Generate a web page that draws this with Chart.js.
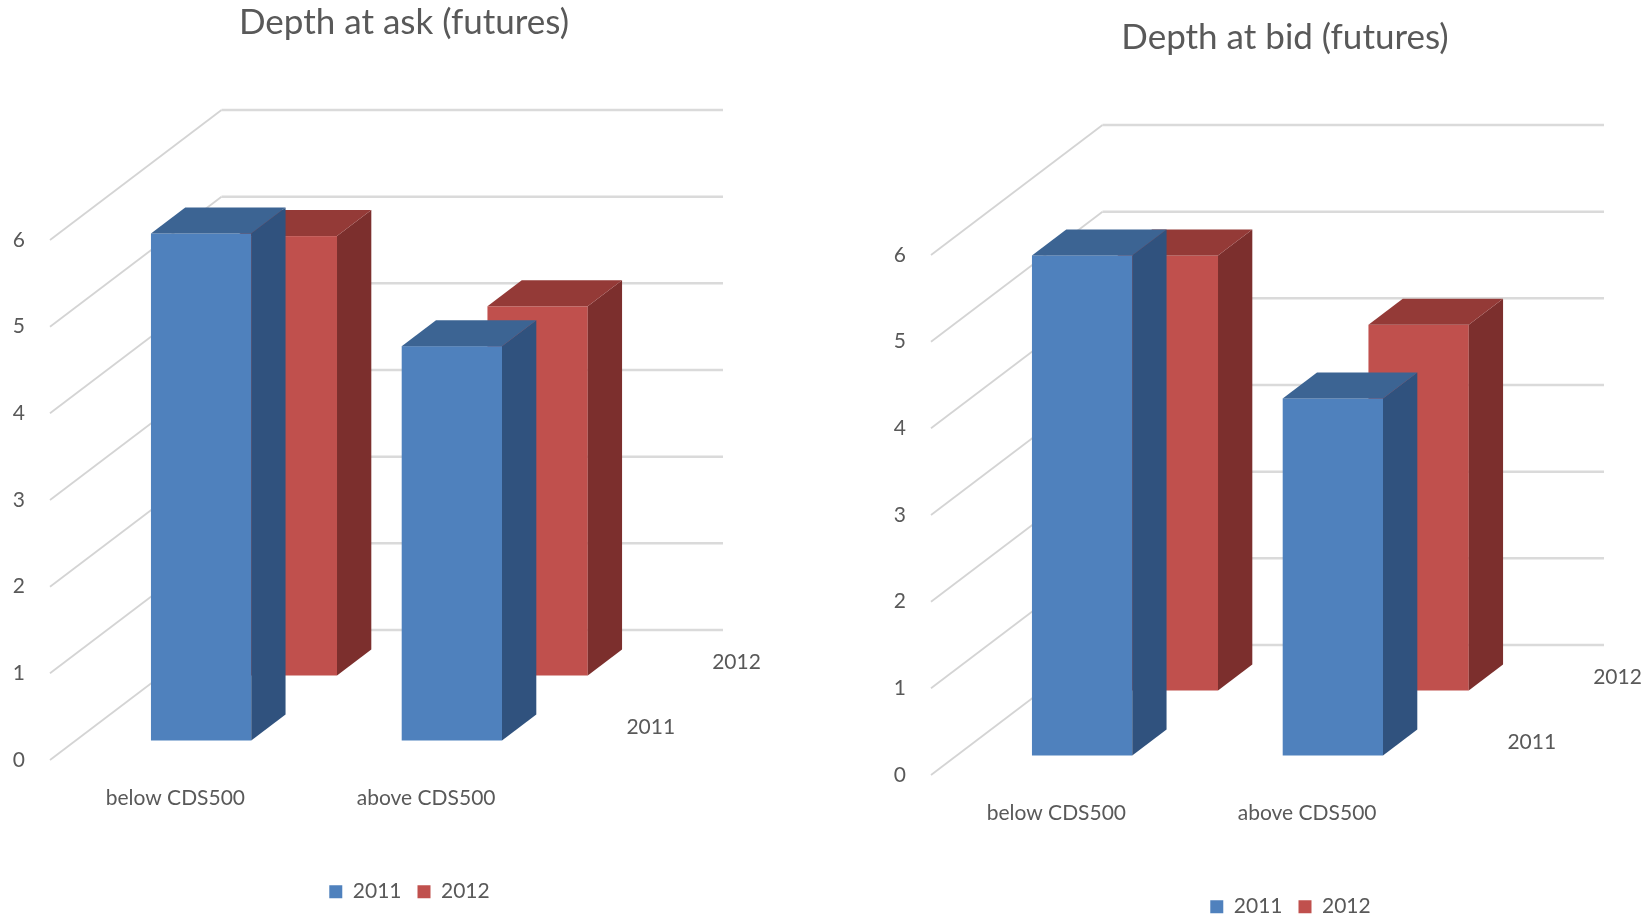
<!DOCTYPE html>
<html>
<head>
<meta charset="utf-8">
<script src="https://cdn.jsdelivr.net/npm/chart.js@4.4.1/dist/chart.umd.min.js"></script>
<style>
  html, body { margin: 0; padding: 0; background: #ffffff; overflow: hidden; width: 1646px; height: 915px; }
  canvas { position: absolute; }
  #askChart { left: 0; top: 0; }
  #bidChart { left: 881px; top: 15px; }
</style>
</head>
<body>
<canvas id="askChart" width="808" height="915"></canvas>
<canvas id="bidChart" width="808" height="915"></canvas>
<script>
// Categories, series and axis ticks
const categories = ['below CDS500', 'above CDS500'];
const years = ['2011', '2012'];
const yTickValues = [0, 1, 2, 3, 4, 5, 6];

// Depth at ask (futures)
const askDepth2011 = [5.85, 4.55];
const askDepth2012 = [5.07, 4.26];

// Depth at bid (futures)
const bidDepth2011 = [5.77, 4.12];
const bidDepth2012 = [5.02, 4.22];

// Face colours of the boxes: front, side, top
const faceColors = [
  { front: '#4F81BD', side: '#30527E', top: '#3C6493' },
  { front: '#C0504D', side: '#7C2F2D', top: '#943A37' }
];

const TEXT_COLOR = '#595959';
const FONT_FAMILY = 'Lato, "Open Sans", "DejaVu Sans", sans-serif';

// Oblique projection: how far the back wall sits from the front plane,
// as a share of the plot area, and how much of each row a box fills.
const DEPTH_X = 0.342;
const DEPTH_Y = 0.25;
const DEPTH_FILL = 0.4;

// Horizontal nudge of the legend row
const LEGEND_SHIFT = 5.5;

Chart.defaults.font.family = FONT_FAMILY;
Chart.defaults.color = TEXT_COLOR;

const box3d = {
  id: 'box3d',
  afterLayout(chart) {
    if (chart.legend) {
      chart.legend.left += LEGEND_SHIFT;
      chart.legend.right += LEGEND_SHIFT;
    }
  },
  beforeDatasetsDraw(chart) {
    const { ctx, chartArea: a, scales } = chart;
    const yScale = scales.y;
    const dX = a.width * DEPTH_X;
    const dY = -a.height * DEPTH_Y;
    const nRows = chart.data.datasets.length;

    ctx.save();
    // side wall diagonals and back wall gridlines
    yScale.ticks.forEach(t => {
      const py = yScale.getPixelForValue(t.value);
      ctx.strokeStyle = '#D4D4D4';
      ctx.lineWidth = 1.8;
      ctx.beginPath();
      ctx.moveTo(a.left, py);
      ctx.lineTo(a.left + dX, py + dY);
      ctx.stroke();
      ctx.strokeStyle = '#DADADA';
      ctx.lineWidth = 2.5;
      ctx.beginPath();
      ctx.moveTo(a.left + dX, py + dY);
      ctx.lineTo(a.right + dX, py + dY);
      ctx.stroke();
    });

    // boxes, back row first so the front row covers it
    for (let r = nRows - 1; r >= 0; r--) {
      const meta = chart.getDatasetMeta(r);
      const c = faceColors[r];
      const f0 = (r + (1 - DEPTH_FILL) / 2) / nRows;
      const f1 = (r + (1 + DEPTH_FILL) / 2) / nRows;
      const ox = dX * f0, oy = dY * f0;
      const bx = dX * (f1 - f0), by = dY * (f1 - f0);
      meta.data.forEach(bar => {
        const p = bar.getProps(['x', 'y', 'base', 'width'], true);
        const x0 = p.x - p.width / 2 + ox;
        const x1 = p.x + p.width / 2 + ox;
        const yT = p.y + oy;
        const yB = p.base + oy;
        // front
        ctx.fillStyle = c.front;
        ctx.fillRect(x0, yT, x1 - x0, yB - yT);
        // side
        ctx.fillStyle = c.side;
        ctx.beginPath();
        ctx.moveTo(x1, yT);
        ctx.lineTo(x1 + bx, yT + by);
        ctx.lineTo(x1 + bx, yB + by);
        ctx.lineTo(x1, yB);
        ctx.closePath();
        ctx.fill();
        // top
        ctx.fillStyle = c.top;
        ctx.beginPath();
        ctx.moveTo(x0, yT);
        ctx.lineTo(x0 + bx, yT + by);
        ctx.lineTo(x1 + bx, yT + by);
        ctx.lineTo(x1, yT);
        ctx.closePath();
        ctx.fill();
      });
    }

    // series labels along the depth axis
    ctx.fillStyle = TEXT_COLOR;
    ctx.font = '21px ' + FONT_FAMILY;
    ctx.textAlign = 'left';
    ctx.textBaseline = 'middle';
    chart.data.datasets.forEach((ds, r) => {
      const f = (r + 0.5) / nRows;
      ctx.fillText(ds.label, a.right + dX * f + 32, a.bottom + dY * f);
    });
    ctx.restore();
    return false;
  }
};

function makePanel(canvasId, titleText, values2011, values2012) {
  return new Chart(document.getElementById(canvasId), {
    type: 'bar',
    data: {
      labels: categories,
      datasets: [
        { label: years[0], data: values2011, backgroundColor: faceColors[0].front, borderWidth: 0 },
        { label: years[1], data: values2012, backgroundColor: faceColors[1].front, borderWidth: 0 }
      ]
    },
    options: {
      responsive: false,
      devicePixelRatio: 1,
      animation: false,
      grouped: false,
      categoryPercentage: 1,
      barPercentage: DEPTH_FILL,
      layout: { padding: { left: 0, right: 0, top: 0, bottom: 2.8 } },
      plugins: {
        title: {
          display: true,
          text: titleText,
          color: TEXT_COLOR,
          font: { size: 35, weight: '400' },
          padding: { top: 2, bottom: 196 }
        },
        legend: {
          position: 'bottom',
          labels: {
            boxWidth: 13,
            boxHeight: 13,
            padding: 16,
            color: TEXT_COLOR,
            font: { size: 21 }
          }
        },
        tooltip: { enabled: false }
      },
      scales: {
        x: {
          offset: true,
          grid: { display: false, drawTicks: false },
          border: { display: false },
          ticks: { padding: 25.5, maxRotation: 0, font: { size: 21 }, color: TEXT_COLOR },
          afterFit: s => { s.height = 105.2; }
        },
        y: {
          min: 0,
          max: 6,
          grid: { display: false, drawTicks: false },
          border: { display: false },
          ticks: { padding: 25, font: { size: 21 }, color: TEXT_COLOR },
          afterBuildTicks: s => { s.ticks = yTickValues.map(v => ({ value: v })); },
          afterFit: s => { s.width = 50; }
        },
        depth: {
          type: 'linear',
          position: 'right',
          grid: { display: false, drawTicks: false },
          border: { display: false },
          ticks: { display: false },
          afterFit: s => { s.width = 256.5; }
        }
      }
    },
    plugins: [box3d]
  });
}

makePanel('askChart', 'Depth at ask (futures)', askDepth2011, askDepth2012);
makePanel('bidChart', 'Depth at bid (futures)', bidDepth2011, bidDepth2012);
</script>
</body>
</html>
